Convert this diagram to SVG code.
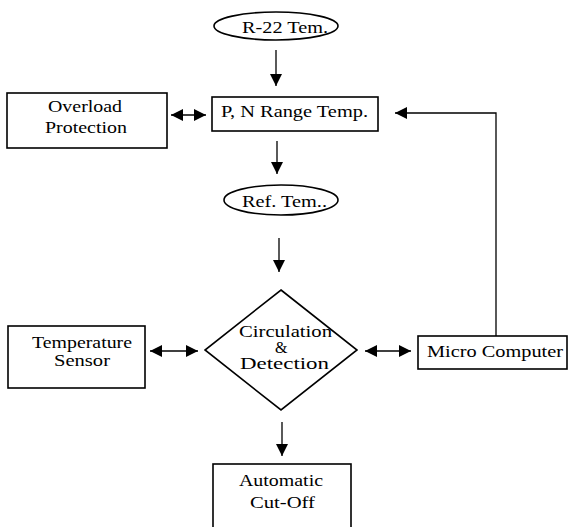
<svg xmlns="http://www.w3.org/2000/svg" width="568" height="527" viewBox="0 0 568 527">
<defs>
<style>
.n{fill:#fff;stroke:#000;stroke-width:1.6}
.t{font-family:"Liberation Serif","DejaVu Serif","Times New Roman",serif;font-size:16px;fill:#000}
.c{fill:none;stroke:#000;stroke-width:1.3}
</style>
<marker id="ah" markerUnits="userSpaceOnUse" markerWidth="14" markerHeight="14" refX="12" refY="6" orient="auto-start-reverse">
<path d="M0,0 L12,6 L0,12 Z" fill="#000"/>
</marker>
</defs>
<rect width="568" height="527" fill="#fff"/>
<g id="connectors">
<line class="c" x1="276" y1="50" x2="276" y2="86" marker-end="url(#ah)"/>
<line class="c" x1="277" y1="141" x2="277" y2="174" marker-end="url(#ah)"/>
<line class="c" x1="279" y1="238" x2="279" y2="272" marker-end="url(#ah)"/>
<line class="c" x1="282" y1="422" x2="282" y2="456" marker-end="url(#ah)"/>
<line class="c" x1="171" y1="115" x2="206" y2="115" marker-start="url(#ah)" marker-end="url(#ah)"/>
<line class="c" x1="150" y1="351" x2="198" y2="351" marker-start="url(#ah)" marker-end="url(#ah)"/>
<line class="c" x1="365" y1="351" x2="411" y2="351" marker-start="url(#ah)" marker-end="url(#ah)"/>
<polyline class="c" points="496,336 496,113 395,113" marker-end="url(#ah)"/>
</g>
<g id="r22">
<ellipse class="n" cx="276" cy="26" rx="62" ry="14"/>
<text class="t" x="242" y="33" textLength="86" lengthAdjust="spacingAndGlyphs">R-22 Tem.</text>
</g>
<g id="pn">
<rect class="n" x="212" y="97" width="166" height="34"/>
<text class="t" x="221" y="117" textLength="147" lengthAdjust="spacingAndGlyphs">P, N Range Temp.</text>
</g>
<g id="overload">
<rect class="n" x="7" y="93" width="160" height="55"/>
<text class="t" x="48" y="112" textLength="74" lengthAdjust="spacingAndGlyphs">Overload</text>
<text class="t" x="45" y="133" textLength="82" lengthAdjust="spacingAndGlyphs">Protection</text>
</g>
<g id="ref">
<ellipse class="n" cx="281" cy="200" rx="57" ry="15"/>
<text class="t" x="242" y="207" textLength="85" lengthAdjust="spacingAndGlyphs">Ref. Tem..</text>
</g>
<g id="sensor">
<rect class="n" x="8" y="326" width="137" height="62"/>
<text class="t" x="32" y="348" textLength="100" lengthAdjust="spacingAndGlyphs">Temperature</text>
<text class="t" x="54" y="366" textLength="56" lengthAdjust="spacingAndGlyphs">Sensor</text>
</g>
<g id="decision">
<polygon class="n" points="281,290 357,350 281,410 205,350" stroke-width="2"/>
<text class="t" x="239" y="337" textLength="93" lengthAdjust="spacingAndGlyphs">Circulation</text>
<text class="t" x="275" y="353">&amp;</text>
<text class="t" x="240" y="369" textLength="89" lengthAdjust="spacingAndGlyphs">Detection</text>
</g>
<g id="micro">
<rect class="n" x="418" y="336" width="149" height="33"/>
<text class="t" x="427" y="357" textLength="136" lengthAdjust="spacingAndGlyphs">Micro Computer</text>
</g>
<g id="cutoff">
<rect class="n" x="213" y="464" width="138" height="80"/>
<text class="t" x="239" y="486" textLength="84" lengthAdjust="spacingAndGlyphs">Automatic</text>
<text class="t" x="250" y="508" textLength="65" lengthAdjust="spacingAndGlyphs">Cut-Off</text>
</g>
</svg>
